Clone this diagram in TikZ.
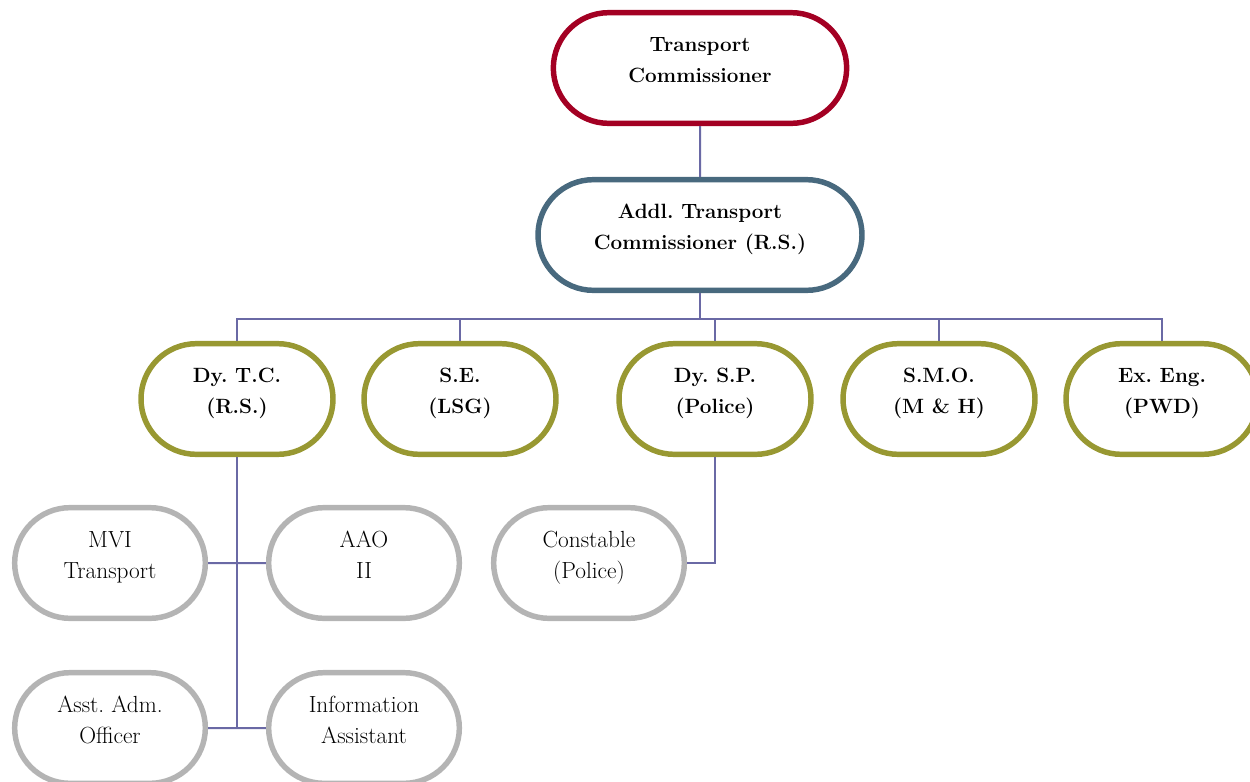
\documentclass[tikz,border=0pt]{standalone}
\usetikzlibrary{shapes.misc}

\definecolor{chiefred}{RGB}{163,0,35}
\definecolor{addlblue}{RGB}{72,105,126}
\definecolor{deptolive}{RGB}{152,152,50}
\definecolor{staffgrey}{RGB}{180,180,180}
\definecolor{linkblue}{RGB}{106,105,165}

\tikzset{
  chart/.style={
    every node/.style={
        rounded rectangle,
        fill=white,
        line width=4.1pt,
        align=center,
        inner sep=2pt,
        execute at begin node={\frenchspacing},
        execute at end node={\rule[-12pt]{0pt}{0pt}},
    },
    link/.style={draw=linkblue,line width=1.5pt},
  }
}

\begin{document}
\begin{tikzpicture}[x=0.75pt, y=-0.75pt, chart]
        \tikzstyle{chief}=[draw=chiefred,minimum width=224pt,minimum height=83pt,font={\fontsize{15.5}{23}\selectfont\bfseries}]
        \tikzstyle{addl}=[draw=addlblue,minimum width=247pt,minimum height=83pt,font={\fontsize{15.5}{23}\selectfont\bfseries}]
        \tikzstyle{dept}=[draw=deptolive,minimum width=148pt,minimum height=83pt,font={\fontsize{15.5}{23}\selectfont\bfseries}]
        \tikzstyle{staff}=[draw=staffgrey,minimum width=147pt,minimum height=83pt,font={\fontsize{17.5}{23}\selectfont}]

        \useasboundingbox (0,0) rectangle (1250,782);

        \node[chief] (TC) at (700,68)  {Transport\\Commissioner};
        \node[addl] (ATC) at (700,235)  {Addl. Transport\\Commissioner (R.S.)};

        \node[dept] (DTC) at (237,399)  {Dy. T.C.\\(R.S.)};
        \node[dept] (SE) at (460,399)  {S.E.\\(LSG)};
        \node[dept] (DSP) at (715,399)  {Dy. S.P.\\(Police)};
        \node[dept] (SMO) at (939,399)  {S.M.O.\\(M \& H)};
        \node[dept] (EE) at (1162,399)  {Ex. Eng.\\(PWD)};

        \node[staff] (MVI) at (110,563)  {MVI\\Transport};
        \node[staff] (AAO) at (364,563)  {AAO\\II};
        \node[staff] (AAM) at (110,728)  {Asst. Adm.\\Officer};
        \node[staff] (IA) at (364,728)  {Information\\Assistant};
        \node[staff] (CON) at (589,563)  {Constable\\(Police)};

        \draw[link] (TC) -- (ATC);
        \foreach \n in {DTC,SE,DSP,SMO,EE}
            \draw[link] (ATC.south) -- ++(0,26) -| (\n.north);
        \draw[link] (DTC.south) -- (DTC.south |- AAM.east);
        \draw[link] (MVI) -- (AAO);
        \draw[link] (AAM) -- (IA);
        \draw[link] (DSP.south) |- (CON.east);
    \end{tikzpicture}
\end{document}
